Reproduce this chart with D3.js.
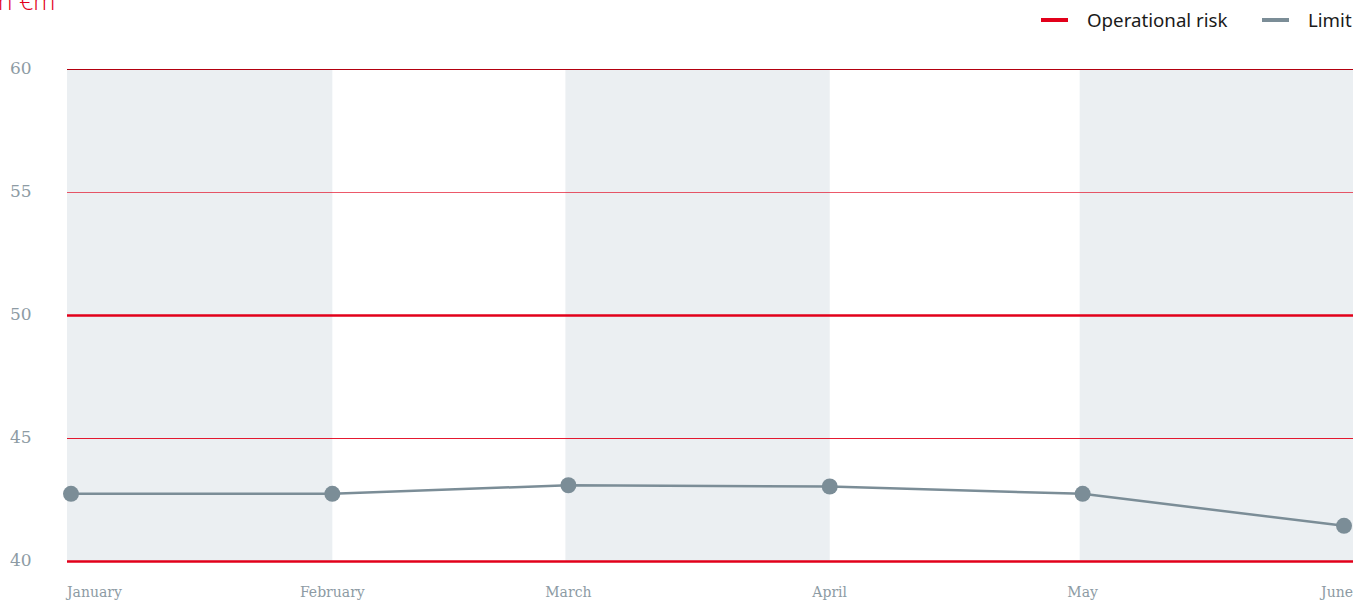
<!DOCTYPE html>
<html>
<head>
<meta charset="utf-8">
<script src="https://cdn.jsdelivr.net/npm/d3@7"></script>
<style>
  body { margin: 0; background: #fff; overflow: hidden; }
  .tick-label { font-family: "DejaVu Serif", serif; fill: #8d9ba4; }
  .legend-label { font-family: "Noto Sans", sans-serif; font-size: 18.7px; fill: #1a1a1a; }
</style>
</head>
<body>
<div class="chart"></div>
<script>
// Data
const months = ["January", "February", "March", "April", "May", "June"];
const monthDates = ["2019-01-01", "2019-02-01", "2019-03-01", "2019-04-01", "2019-05-01", "2019-06-01"];
const limitValues = [42.75, 42.75, 43.1, 43.05, 42.75, 41.45];
const yTicks = [40, 45, 50, 55, 60];
const bandPairs = [[0, 1], [2, 3], [4, 5]];
const legendItems = ["Operational risk", "Limit"];

// Setup
const width = 1367, height = 601;
const red = "#e2001a", grey = "#7b8d97", band = "#ebeff2";
const parse = d3.timeParse("%Y-%m-%d");
const dates = monthDates.map(parse);

const x = d3.scaleTime()
  .domain(d3.extent(dates))
  .range([71, 1344]);

const y = d3.scaleLinear()
  .domain([40, 60])
  .range([561.5, 69.5]);

const plotLeft = 67, plotRight = 1353;

const svg = d3.select(".chart")
  .append("svg")
  .attr("width", width)
  .attr("height", height);

// Bands
svg.append("g")
  .selectAll("rect")
  .data(bandPairs)
  .enter()
  .append("rect")
  .attr("x", (d, i) => i === 0 ? plotLeft : x(dates[d[0]]) - 3)
  .attr("width", (d, i) => {
    const x0 = i === 0 ? plotLeft : x(dates[d[0]]) - 3;
    const x1 = i === bandPairs.length - 1 ? plotRight : x(dates[d[1]]);
    return x1 - x0;
  })
  .attr("y", y(60))
  .attr("height", y(40) - y(60))
  .attr("fill", band);

// Grid lines
const gridStyle = v => {
  if (v === 40 || v === 50) return { stroke: red, w: 2.6, o: 1 };
  if (v === 60) return { stroke: "#b3000f", w: 1, o: 1 };
  if (v === 55) return { stroke: red, w: 1, o: 0.65 };
  return { stroke: red, w: 1, o: 0.9 };
};

svg.append("g")
  .selectAll("line")
  .data(yTicks)
  .enter()
  .append("line")
  .attr("x1", plotLeft)
  .attr("x2", plotRight)
  .attr("y1", d => y(d))
  .attr("y2", d => y(d))
  .attr("stroke", d => gridStyle(d).stroke)
  .attr("stroke-width", d => gridStyle(d).w)
  .attr("stroke-opacity", d => gridStyle(d).o);

// Y labels
svg.append("g")
  .selectAll("text")
  .data(yTicks)
  .enter()
  .append("text")
  .attr("class", "tick-label")
  .attr("x", 10)
  .attr("y", d => y(d) + 4)
  .attr("font-size", 17)
  .text(d => d);

// X labels
svg.append("g")
  .selectAll("text")
  .data(months)
  .enter()
  .append("text")
  .attr("class", "tick-label")
  .attr("font-size", 14)
  .attr("x", (d, i) => i === 0 ? plotLeft : i === months.length - 1 ? plotRight : x(dates[i]))
  .attr("y", 597)
  .attr("text-anchor", (d, i) => i === 0 ? "start" : i === months.length - 1 ? "end" : "middle")
  .text(d => d);

// Limit line
const line = d3.line()
  .x((d, i) => x(dates[i]))
  .y(d => y(d));

svg.append("path")
  .datum(limitValues)
  .attr("d", line)
  .attr("fill", "none")
  .attr("stroke", grey)
  .attr("stroke-width", 2.5);

svg.append("g")
  .selectAll("circle")
  .data(limitValues)
  .enter()
  .append("circle")
  .attr("cx", (d, i) => x(dates[i]))
  .attr("cy", d => y(d))
  .attr("r", 8)
  .attr("fill", grey);

// Unit title (cut off at the top, as in the source)
svg.append("text")
  .attr("x", -8)
  .attr("y", 10)
  .attr("font-family", "Open Sans, sans-serif")
  .attr("font-weight", 300)
  .attr("font-size", 25)
  .attr("fill", red)
  .text("in €m");

// Legend
const legendX = [1041, 1262];
const legend = svg.append("g").attr("class", "legend");
legend.selectAll("line")
  .data(legendItems)
  .enter()
  .append("line")
  .attr("x1", (d, i) => legendX[i])
  .attr("x2", (d, i) => legendX[i] + 27)
  .attr("y1", 20)
  .attr("y2", 20)
  .attr("stroke", (d, i) => i === 0 ? red : grey)
  .attr("stroke-width", 4);

legend.selectAll("text")
  .data(legendItems)
  .enter()
  .append("text")
  .attr("class", "legend-label")
  .attr("x", (d, i) => legendX[i] + 46)
  .attr("y", 27)
  .text(d => d);
</script>
</body>
</html>
